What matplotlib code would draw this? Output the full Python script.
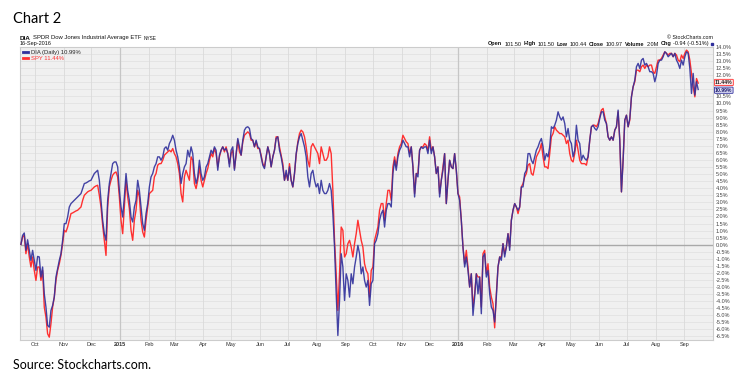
import numpy as np
import pandas as pd
import matplotlib
matplotlib.use('Agg')
import matplotlib.pyplot as plt
from matplotlib.lines import Line2D

# --- data: % change since start ---
START, END = '2014-09-16', '2016-09-16'

dia_pct = [
    # Sep 2014 - Feb 2015
    0.02, 0.66, 0.83, -0.40, 0.35, -0.40, -1.11, -0.40, -1.11, -1.82,
    -0.83, -0.87, -2.29, -1.58, -3.48, -4.42, -5.72, -5.84, -4.66, -4.30,
    -3.71, -2.29, -1.70, -1.11, -0.64, 0.31, 1.49, 1.49, 1.96, 2.67,
    2.91, 3.03, 3.14, 3.26, 3.38, 3.50, 3.62, 3.97, 4.33, 4.37,
    4.44, 4.52, 4.56, 4.80, 5.04, 5.15, 5.27, 4.56, 3.14, 1.73,
    0.78, 0.31, 3.14, 4.33, 5.04, 5.74, 5.86, 5.86, 5.51, 3.85,
    2.67, 1.96, 3.38, 5.04, 3.85, 3.14, 1.96, 1.61, 2.67, 3.14,
    4.56, 3.85, 2.67, 1.49, 1.02, 2.20, 2.91, 4.09, 4.80, 5.04,
    5.51, 5.74, 6.22, 6.22, 5.98, 6.22, 6.81, 6.93, 6.69, 7.16,
    7.40, 7.75, 7.40, 6.69, 6.22, 5.51, 4.33, 5.04, 5.51, 5.74,
    # Mar 2015 - Sep 2015
    6.69, 6.22, 6.93, 6.45, 5.04, 4.33, 4.80, 5.98, 5.04, 4.56,
    4.80, 5.51, 5.74, 6.22, 6.69, 6.45, 6.93, 6.69, 5.27, 6.34,
    6.69, 6.93, 6.69, 6.81, 6.45, 5.51, 6.69, 6.93, 5.27, 6.45,
    7.52, 6.93, 6.34, 7.40, 8.11, 8.30, 8.35, 8.23, 7.52, 7.40,
    6.93, 7.40, 6.93, 6.81, 6.22, 5.63, 5.39, 6.22, 6.93, 6.45,
    5.51, 6.22, 6.69, 7.52, 7.64, 6.69, 6.22, 5.51, 4.56, 5.27,
    4.56, 5.51, 4.56, 4.09, 5.04, 6.45, 7.16, 7.64, 7.87, 7.40,
    6.93, 6.22, 4.80, 4.09, 5.04, 5.27, 4.56, 4.09, 4.33, 3.62,
    4.56, 3.85, 3.62, 3.62, 3.85, 4.33, 3.85, 2.20, -0.17, -3.48,
    -6.43, -3.95, -0.64, -1.58, -3.95, -2.06, -2.53, -3.71, -2.06, -2.77,
    -1.58, -0.87,
    # Oct 2015 - Mar 2016
    -0.05, -0.64, -2.06, -1.58, -2.53, -3.00, -2.53, -4.30, -2.77, -2.53,
    0.07, 0.31, 0.78, 1.73, 2.20, 2.44, 1.25, 2.44, 2.91, 2.91,
    2.67, 5.04, 5.98, 5.27, 6.22, 6.69, 6.93, 7.40, 7.16, 6.93,
    6.93, 6.22, 6.93, 5.51, 3.38, 5.04, 4.80, 6.69, 6.93, 6.81,
    6.93, 6.93, 6.45, 7.40, 6.45, 6.93, 6.22, 5.04, 5.51, 3.38,
    4.56, 5.27, 6.45, 2.91, 4.56, 5.98, 5.51, 5.39, 6.45, 5.27,
    3.62, 3.14, 1.73, -0.17, -1.58, -0.87, -1.82, -3.00, -2.06, -5.01,
    -3.71, -2.06, -3.48, -2.29, -4.89, -0.87, -0.64, -2.29, -1.82, -3.48,
    -4.42, -4.66, -5.48, -3.71, -1.58, -0.87, -1.11, 0.07, -0.87, -0.17,
    0.78, -0.40, 1.73, 2.44, 2.91, 2.67, 2.44, 2.67, 4.09, 4.09,
    5.04, 5.27,
    # Apr 2016 - Sep 2016
    6.45, 6.45, 5.98, 5.74, 6.22, 6.69, 6.93, 7.28, 7.52, 6.93,
    5.98, 6.45, 6.22, 6.93, 8.35, 8.23, 8.46, 8.82, 9.41, 9.05,
    8.82, 9.05, 8.58, 7.64, 8.23, 7.40, 7.16, 6.22, 6.69, 8.46,
    7.40, 7.16, 5.98, 6.34, 6.10, 5.98, 6.22, 7.40, 8.35, 8.46,
    8.23, 8.11, 8.35, 8.94, 9.41, 9.41, 8.82, 8.58, 7.64, 7.40,
    7.64, 7.40, 8.11, 8.35, 9.53, 7.40, 3.74, 5.98, 8.82, 9.17,
    8.35, 8.94, 10.47, 11.18, 11.65, 12.60, 12.84, 12.48, 13.07, 13.19,
    12.72, 12.84, 12.60, 12.25, 12.25, 12.13, 11.54, 12.01, 12.84, 13.07,
    13.07, 13.31, 13.66, 13.55, 13.31, 13.43, 13.55, 13.31, 13.55, 13.07,
    12.84, 12.48, 13.07, 12.72, 13.31, 13.66, 13.55, 12.48, 10.71, 12.13,
    10.59, 11.54, 10.99,
]

spy_pct = [
    # Sep 2014 - Feb 2015
    0.02, 0.54, 0.66, -0.64, 0.07, -0.87, -1.58, -0.87, -1.82, -2.53,
    -1.58, -1.58, -2.53, -1.82, -4.42, -5.13, -6.31, -6.55, -5.60, -4.42,
    -3.71, -2.53, -1.82, -1.35, -0.76, 0.07, 1.02, 0.90, 1.25, 1.73,
    2.20, 2.25, 2.32, 2.39, 2.44, 2.55, 2.67, 3.14, 3.50, 3.62,
    3.74, 3.81, 3.85, 3.97, 4.09, 4.16, 4.21, 3.50, 2.67, 1.37,
    0.31, -0.76, 2.67, 4.09, 4.56, 4.92, 5.08, 5.15, 4.80, 3.38,
    1.73, 0.78, 2.67, 4.56, 3.38, 2.55, 1.02, 0.31, 1.73, 2.44,
    3.85, 3.38, 1.73, 0.90, 0.54, 1.73, 2.67, 3.62, 3.74, 3.85,
    4.80, 5.04, 5.63, 5.74, 5.74, 5.98, 6.34, 6.45, 6.57, 6.69,
    6.57, 6.81, 6.45, 6.22, 5.74, 5.04, 3.62, 3.03, 4.80, 5.27,
    # Mar 2015 - Sep 2015
    4.92, 4.56, 6.22, 5.98, 4.33, 3.97, 4.56, 5.51, 4.56, 4.09,
    4.56, 5.04, 5.39, 5.98, 6.45, 6.22, 6.81, 6.45, 5.51, 6.22,
    6.69, 6.93, 6.57, 6.93, 6.45, 5.74, 6.45, 6.69, 5.39, 6.34,
    7.40, 6.57, 6.34, 7.28, 7.75, 7.87, 7.99, 7.87, 7.40, 7.40,
    6.93, 7.28, 6.81, 6.81, 6.34, 5.74, 5.51, 6.22, 6.93, 6.45,
    5.51, 6.22, 6.69, 7.64, 7.64, 6.93, 6.34, 5.74, 4.56, 5.04,
    4.56, 5.74, 4.56, 4.09, 5.04, 6.34, 7.28, 7.87, 8.11, 7.99,
    7.64, 6.93, 5.98, 5.51, 6.93, 7.16, 6.93, 6.69, 6.45, 5.74,
    6.93, 6.45, 5.98, 5.98, 6.22, 6.93, 6.45, 3.85, 0.31, -2.06,
    -4.66, -2.06, 1.25, 1.02, -0.87, -0.64, 0.07, 0.31, -0.17, -0.87,
    0.07, 0.78,
    # Oct 2015 - Mar 2016
    1.73, 1.02, 0.31, -0.17, -1.35, -1.82, -2.06, -3.71, -1.82, -1.58,
    0.31, 0.78, 1.25, 2.44, 2.91, 2.91, 1.73, 2.91, 3.85, 3.85,
    3.14, 5.51, 6.22, 5.51, 6.45, 6.93, 7.16, 7.75, 7.52, 7.28,
    7.16, 6.45, 6.93, 5.51, 3.62, 5.04, 5.04, 6.69, 6.93, 6.93,
    7.16, 7.04, 6.69, 7.64, 6.69, 6.93, 6.22, 5.04, 5.51, 3.62,
    4.56, 5.51, 6.45, 2.91, 4.56, 5.98, 5.51, 5.39, 6.45, 5.27,
    3.62, 3.38, 1.73, -0.17, -1.35, -0.40, -1.58, -3.00, -2.06, -4.42,
    -3.48, -2.06, -2.29, -2.29, -4.42, -0.64, -0.40, -2.06, -1.35, -3.00,
    -3.71, -4.18, -5.89, -3.48, -1.58, -0.87, -0.87, 0.07, -0.64, -0.17,
    0.78, -0.17, 1.73, 2.44, 2.91, 2.67, 2.20, 2.67, 4.09, 4.33,
    4.80, 5.04,
    # Apr 2016 - Sep 2016
    5.63, 5.74, 5.04, 4.92, 5.51, 6.22, 6.45, 6.69, 7.16, 6.22,
    5.51, 5.51, 5.39, 6.45, 7.64, 7.87, 8.35, 8.11, 7.99, 7.87,
    7.87, 7.75, 7.64, 7.16, 7.40, 6.45, 5.98, 5.86, 6.45, 7.40,
    6.69, 5.98, 5.74, 5.74, 5.74, 5.63, 6.22, 7.40, 8.35, 8.46,
    8.46, 8.35, 8.58, 9.05, 9.53, 9.65, 9.05, 8.58, 7.64, 7.40,
    7.64, 7.40, 8.11, 8.35, 9.41, 7.40, 3.74, 5.98, 8.82, 9.17,
    8.35, 8.82, 10.47, 11.18, 11.54, 12.36, 12.36, 12.25, 12.60, 12.72,
    12.48, 12.72, 12.60, 12.72, 12.72, 12.25, 12.13, 12.60, 13.07, 13.07,
    13.19, 13.43, 13.66, 13.55, 13.43, 13.55, 13.55, 13.31, 13.55, 13.43,
    13.07, 12.96, 13.43, 13.19, 13.55, 13.78, 13.66, 13.07, 12.13, 11.18,
    10.47, 11.77, 11.44,
]

DIA_LAST, SPY_LAST = 10.99, 11.44
BLUE = '#30309c'
RED = '#ff3030'

dates = pd.date_range(START, END, periods=len(dia_pct))
month_starts = pd.date_range('2014-10-01', '2016-09-01', freq='MS')
month_labels = [str(d.year) if d.month == 1 else d.strftime('%b') for d in month_starts]
y_ticks = np.arange(-6.5, 14.01, 0.5)
# the last-value tags sit on top of these two labels in the original
hidden_ticks = (11.0, 11.5)

chart_font = 'Liberation Sans'

fig = plt.figure(figsize=(7.5, 3.85), dpi=100)
fig.patch.set_facecolor('white')
ax = fig.add_axes([20 / 750, 1 - 340 / 385, 693 / 750, 293 / 385])
ax.set_facecolor('#f0f0f0')

# grid
for y in y_ticks:
    ax.axhline(y, color='#e0e0e0', lw=0.5, zorder=0)
for d in month_starts:
    if d.month == 1:
        ax.axvline(d, color='#c6c6c6', lw=0.9, zorder=0)
    else:
        ax.axvline(d, color='#dadada', lw=0.6, zorder=0)
ax.axhline(0, color='#a9a9a9', lw=1.0, zorder=1)

l_spy, = ax.plot(dates, spy_pct, color=RED, lw=1.0, zorder=3)
l_dia, = ax.plot(dates, dia_pct, color=BLUE, lw=1.0, alpha=0.9, zorder=4)

ax.set_xlim(pd.Timestamp('2014-09-15'), pd.Timestamp('2016-10-02'))
ax.set_ylim(-6.75, 14.0)

ax.set_xticks(month_starts, month_labels)
for lab, d in zip(ax.get_xticklabels(), month_starts):
    lab.set_fontfamily(chart_font)
    if d.month == 1:
        lab.set_fontweight('bold')
ax.tick_params(axis='x', length=0, pad=1.5, labelsize=4, labelcolor='#333333')

ax.yaxis.tick_right()
ax.set_yticks(y_ticks, ['' if round(v, 1) in hidden_ticks else f'{v:.1f}%' for v in y_ticks])
for lab in ax.get_yticklabels():
    lab.set_fontfamily(chart_font)
ax.tick_params(axis='y', length=0, pad=2, labelsize=4, labelcolor='#444444')

for s in ax.spines.values():
    s.set_color('#cccccc')
    s.set_linewidth(0.8)

# legend in the top-left corner
h_dia = Line2D([], [], color=BLUE, lw=2)
h_spy = Line2D([], [], color=RED, lw=2)
leg = ax.legend([h_dia, h_spy], [f'DIA (Daily) {DIA_LAST:.2f}%', f'SPY {SPY_LAST:.2f}%'],
                loc='upper left', bbox_to_anchor=(0.0, 1.0), frameon=False,
                prop={'family': chart_font, 'size': 4.2}, handlelength=1.0,
                handletextpad=0.4, labelspacing=0.15, borderaxespad=0.25, borderpad=0.2)
leg.get_texts()[0].set_color('#222222')
leg.get_texts()[1].set_color(RED)

# last-value tags on the right axis
yt = ax.get_yaxis_transform()
ax.text(1.003, SPY_LAST + 0.05, f'{SPY_LAST:.2f}%', transform=yt, fontsize=3.7, fontweight='bold',
        family=chart_font, color='#222222', va='center', ha='left', zorder=6, clip_on=False,
        bbox=dict(boxstyle='round,pad=0.12', fc='#ffe6e6', ec=RED, lw=0.6))
ax.text(1.003, DIA_LAST - 0.05, f'{DIA_LAST:.2f}%', transform=yt, fontsize=3.7, fontweight='bold',
        family=chart_font, color='#1a1a6a', va='center', ha='left', zorder=6, clip_on=False,
        bbox=dict(boxstyle='round,pad=0.12', fc='#dcdcf4', ec=BLUE, lw=0.6))

# header lines above the plot, drawn as text runs
renderer = fig.canvas.get_renderer()


def put_runs(x_px, y_px, runs, align='left', gap=2.0):
    items = []
    for txt, size, weight in runs:
        t = fig.text(0, 0, txt, fontsize=size, fontweight=weight, family=chart_font,
                     color='#111111', va='baseline', ha='left')
        items.append((t, t.get_window_extent(renderer).width))
    total = sum(w for _, w in items) + gap * (len(items) - 1)
    x = x_px if align == 'left' else x_px - total
    for t, w in items:
        t.set_position((x / 750, 1 - y_px / 385))
        x += w + gap


put_runs(20, 39.5, [('DIA', 4.6, 'bold'),
                    ('SPDR Dow Jones Industrial Average ETF', 4.2, 'normal'),
                    ('NYSE', 3.4, 'normal')])
put_runs(20, 45.5, [('16-Sep-2016', 4.0, 'normal')])
put_runs(713, 39, [('© StockCharts.com', 3.8, 'normal')], align='right')
put_runs(709, 45.5, [('Open', 4.0, 'bold'), ('101.50', 4.0, 'normal'),
                     ('High', 4.0, 'bold'), ('101.50', 4.0, 'normal'),
                     ('Low', 4.0, 'bold'), ('100.44', 4.0, 'normal'),
                     ('Close', 4.0, 'bold'), ('100.97', 4.0, 'normal'),
                     ('Volume', 4.0, 'bold'), ('2.0M', 4.0, 'normal'),
                     ('Chg', 4.0, 'bold'), ('-0.94 (-0.51%)', 4.0, 'normal')], align='right')
fig.patches.append(plt.Rectangle((710.5 / 750, 1 - 45 / 385), 2.5 / 750, 2.5 / 385,
                                 transform=fig.transFigure, color=BLUE))

# outer titles
fig.text(13 / 750, 1 - 23 / 385, 'Chart 2', fontsize=10.5, family='Lato',
         color='black', va='baseline', ha='left')
fig.text(13 / 750, 1 - 369 / 385, 'Source: Stockcharts.com.', fontsize=9, family='Lato',
         color='black', va='baseline', ha='left')

fig.savefig('out.png', dpi=100)
